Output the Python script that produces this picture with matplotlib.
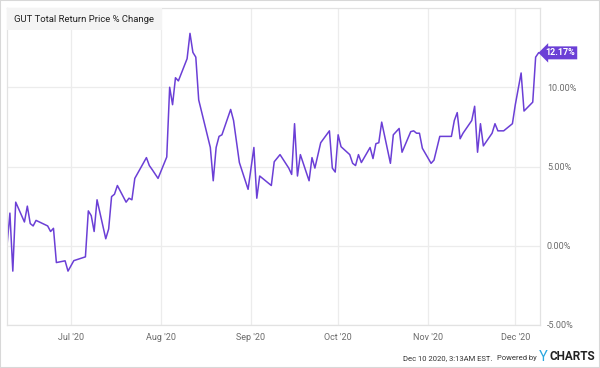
import matplotlib
matplotlib.use("Agg")
import matplotlib.pyplot as plt
import matplotlib.dates as mdates
from matplotlib.patches import Rectangle
import pandas as pd

dates = [
    "2020-06-09", "2020-06-10", "2020-06-11", "2020-06-12", "2020-06-15", "2020-06-16",
    "2020-06-17", "2020-06-18", "2020-06-19", "2020-06-23", "2020-06-24", "2020-06-25",
    "2020-06-26", "2020-06-29", "2020-06-30", "2020-07-02", "2020-07-06", "2020-07-07",
    "2020-07-08", "2020-07-09", "2020-07-10", "2020-07-13", "2020-07-14", "2020-07-15",
    "2020-07-16", "2020-07-17", "2020-07-20", "2020-07-21", "2020-07-22", "2020-07-23",
    "2020-07-27", "2020-07-28", "2020-07-29", "2020-07-31", "2020-08-03", "2020-08-04",
    "2020-08-05", "2020-08-06", "2020-08-07", "2020-08-10", "2020-08-11", "2020-08-12",
    "2020-08-13", "2020-08-14", "2020-08-18", "2020-08-19", "2020-08-20", "2020-08-21",
    "2020-08-22", "2020-08-25", "2020-08-26", "2020-08-28", "2020-08-31", "2020-09-02",
    "2020-09-03", "2020-09-04", "2020-09-08", "2020-09-09", "2020-09-11", "2020-09-14",
    "2020-09-15", "2020-09-16", "2020-09-17", "2020-09-18", "2020-09-21", "2020-09-22",
    "2020-09-23", "2020-09-25", "2020-09-28", "2020-09-29", "2020-09-30", "2020-10-01",
    "2020-10-02", "2020-10-05", "2020-10-06", "2020-10-07", "2020-10-08", "2020-10-09",
    "2020-10-12", "2020-10-13", "2020-10-14", "2020-10-15", "2020-10-16", "2020-10-19",
    "2020-10-20", "2020-10-22", "2020-10-23", "2020-10-26", "2020-10-27", "2020-10-28",
    "2020-10-29", "2020-10-30", "2020-11-02", "2020-11-03", "2020-11-05", "2020-11-09",
    "2020-11-10", "2020-11-11", "2020-11-12", "2020-11-13", "2020-11-16", "2020-11-17",
    "2020-11-18", "2020-11-19", "2020-11-20", "2020-11-23", "2020-11-24", "2020-11-25",
    "2020-11-27", "2020-11-30", "2020-12-01", "2020-12-03", "2020-12-04", "2020-12-07",
    "2020-12-08", "2020-12-09",
]
pct_change = [
    0.0, 2.06, -1.6, 2.75, 1.5, 2.5,
    1.4, 1.25, 1.6, 1.25, 0.9, 1.1,
    -1.06, -0.95, -1.6, -0.94, -0.7, 2.2,
    1.9, 0.9, 2.9, 0.44, 1.06, 3.1,
    3.25, 3.8, 2.75, 3.0, 2.9, 4.25,
    5.56, 5.06, 4.8, 4.25, 5.6, 10.0,
    8.9, 10.6, 10.4, 11.8, 13.4, 12.2,
    11.9, 9.2, 6.2, 4.1, 6.2, 6.9,
    7.0, 8.6, 7.9, 5.25, 3.56, 6.2,
    3.0, 4.4, 3.8, 5.3, 5.75, 4.9,
    4.5, 7.7, 4.4, 5.75, 4.1, 5.56,
    4.9, 6.5, 7.25, 4.9, 4.65, 7.0,
    6.25, 5.75, 5.2, 5.06, 5.75, 5.25,
    6.2, 5.5, 6.44, 6.5, 7.8, 5.2,
    7.0, 7.4, 5.9, 7.2, 7.25, 7.1,
    7.1, 6.15, 5.2, 5.4, 6.9, 6.9,
    7.9, 8.4, 6.75, 7.1, 7.9, 8.8,
    5.9, 7.7, 6.3, 7.1, 7.7, 7.25,
    7.25, 7.7, 8.9, 10.9, 8.5, 9.06,
    11.9, 12.17,
]
y_ticks = [-5, 0, 5, 10]
title = "GUT Total Return Price % Change"

line_color = "#6b3fd6"
grid_color = "#ececec"
text_color = "#6b6b6b"

x = pd.to_datetime(dates)

fig = plt.figure(figsize=(6, 3.68), dpi=100)
ax = fig.add_axes([7 / 600, 43 / 368, 533 / 600, 317 / 368])

ax.plot(x, pct_change, color=line_color, linewidth=1.1)

ax.set_xlim(pd.Timestamp("2020-06-09"), pd.Timestamp("2020-12-09 12:00"))
ax.set_ylim(-5, 15)

ax.xaxis.set_major_locator(mdates.MonthLocator())
ax.xaxis.set_major_formatter(mdates.DateFormatter("%b '%y"))
ax.yaxis.tick_right()
ax.set_yticks(y_ticks)
ax.set_yticklabels(["%.2f%%" % v for v in y_ticks])
ax.tick_params(axis="both", length=0, colors=text_color, labelsize=6.5)
ax.tick_params(axis="y", pad=5)
ax.tick_params(axis="x", pad=6)
for lbl in ax.get_xticklabels() + ax.get_yticklabels():
    lbl.set_family(["Roboto", "DejaVu Sans"])

ax.grid(True, color=grid_color, linewidth=0.9)
ax.set_axisbelow(True)
for s in ax.spines.values():
    s.set_color("#e2e2e2")
    s.set_linewidth(0.9)

# title box in top-left of plot
ax.add_patch(Rectangle((0, 1 - 22 / 317), 155 / 533, 22 / 317, transform=ax.transAxes,
                       facecolor="#f4f4f4", edgecolor="none", zorder=3))
ax.text(7 / 533, 1 - 11 / 317, title, transform=ax.transAxes, va="center", ha="left",
        fontsize=6.8, color="#222222", family=["Roboto", "DejaVu Sans"],
        zorder=4)

# last value tag
ax.annotate("%.2f%%" % pct_change[-1], xy=(x[-1], pct_change[-1]), xytext=(5, 0),
            textcoords="offset points", va="center", ha="left", fontsize=6.5,
            color="white", fontweight="bold", family=["Roboto", "DejaVu Sans"],
            bbox=dict(boxstyle="larrow,pad=0.22", facecolor=line_color, edgecolor="none"),
            annotation_clip=False, zorder=5)

# footer
fig.text(492 / 600, 10 / 368, "Dec 10 2020, 3:13AM EST.", ha="right", va="center",
         fontsize=5.5, color="#333333", family=["Roboto", "DejaVu Sans"])
fig.text(537 / 600, 10 / 368, "Powered by", ha="right", va="center",
         fontsize=5.5, color="#333333", family=["Roboto", "DejaVu Sans"])
fig.text(539 / 600, 11 / 368, "Y", ha="left", va="center", fontsize=10.5,
         color="#2aa6df", family=["Roboto", "DejaVu Sans"])
fig.text(550 / 600, 11 / 368, "CHARTS", ha="left", va="center", fontsize=8.5,
         color="#222222", fontweight="bold", family=["Roboto", "DejaVu Sans"])

fig.patches.append(Rectangle((0, 0), 1, 1, transform=fig.transFigure, fill=False,
                             edgecolor="#d8d8d8", linewidth=1.5))

fig.savefig("out.png", dpi=100)
